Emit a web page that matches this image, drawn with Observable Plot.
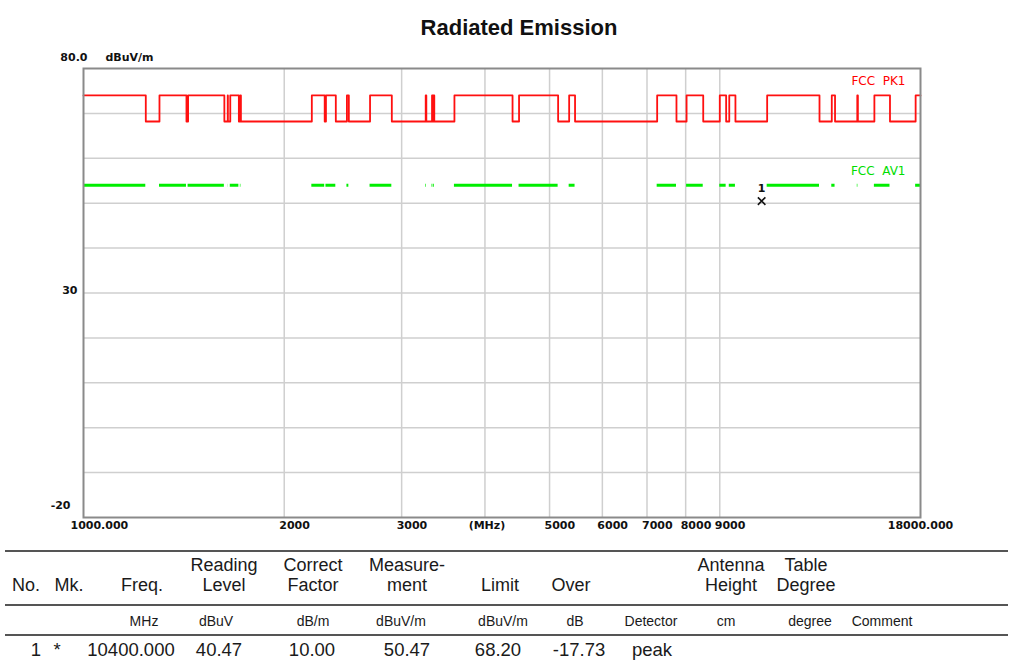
<!DOCTYPE html>
<html><head><meta charset="utf-8">
<script src="https://cdn.jsdelivr.net/npm/d3@7"></script>
<script src="https://cdn.jsdelivr.net/npm/@observablehq/plot@0.6"></script>
<style>
body{margin:0;background:#fff;}
#wrap{position:relative;width:1010px;height:664px;overflow:hidden;font-family:"Liberation Sans",Arial,sans-serif;background:#fff;}
#chart{position:absolute;left:0;top:0;}
#title{position:absolute;left:0;top:14px;width:1038px;text-align:center;font-weight:bold;font-size:22px;line-height:28px;color:#111;}
.hl{position:absolute;left:5px;width:1003px;height:2px;background:#555;}
.cell{position:absolute;transform:translate(-50%,-50%);white-space:nowrap;color:#1a1a1a;line-height:1;}
</style></head><body>
<div id="wrap"><div id="chart"></div><div id="title">Radiated Emission</div><div id="table"></div></div>
<script>
// ---- data ----
const freqMin = 1000, freqMax = 18000;
const levelMin = -20, levelMax = 80;
const bandStart = [960, 1300, 1435, 1645.5, 1660, 1718.8, 2200, 2310, 2483.5, 2690, 3260, 3332, 3345.8, 3600, 4500, 5350, 7250, 8025, 9000, 9300, 10600, 13250, 14470, 15350, 17700];
const bandEnd   = [1240, 1427, 1626.5, 1646.5, 1710, 1722.2, 2300, 2390, 2500, 2900, 3267, 3339, 3358, 4400, 5150, 5460, 7750, 8500, 9200, 9500, 12700, 13400, 14500, 16200, 21400];
const pkRestricted = 74, pkOther = 68.2, avLimit = 54;
const gridFreqs = [2000, 3000, 4000, 5000, 6000, 7000, 8000, 9000];
const gridLevels = [-10, 0, 10, 20, 30, 40, 50, 60, 70];
const freqTicks = [1000, 2000, 3000, 4000, 5000, 6000, 7000, 8000, 9000, 18000];
const freqTickLabels = ["1000.000", "2000", "3000", "(MHz)", "5000", "6000", "7000", "8000", "9000", "18000.000"];
const levelTicks = [80, 30, -20];
const levelTickLabels = ["80.0", "30", "-20"];
const unitLabel = "dBuV/m";
const pkName = "FCC  PK1", avName = "FCC  AV1";
const markerFreq = [10400], markerLevel = [50.47], markerNo = ["1"];

const headTop    = ["", "", "", "Reading", "Correct", "Measure-", "", "", "", "Antenna", "Table", ""];
const headBottom = ["No.", "Mk.", "Freq.", "Level", "Factor", "ment", "Limit", "Over", "", "Height", "Degree", ""];
const unitsRow   = ["", "", "MHz", "dBuV", "dB/m", "dBuV/m", "dBuV/m", "dB", "Detector", "cm", "degree", "Comment"];
const dataRow    = ["1", "*", "10400.000", "40.47", "10.00", "50.47", "68.20", "-17.73", "peak", "", "", ""];

// ---- layout (not data) ----
const headX = [26, 69, 142, 224, 313, 407, 500, 571, 651, 731, 806, 882];
const unitX = [26, 69, 144, 216, 313, 401, 503, 575, 651, 726, 810, 882];
const dataX = [36, 57, 131, 219, 312, 407, 498, 579, 652, 731, 806, 882];

// ---- derived tables ----
const bands = bandStart.map((s, i) => ({s, e: bandEnd[i]}));
const pkPoints = [];
bands.forEach(b => {
  pkPoints.push({f: Math.max(b.s, freqMin), v: pkRestricted});
  if (b.e < freqMax) pkPoints.push({f: b.e, v: pkOther});
  else pkPoints.push({f: freqMax, v: pkRestricted});
});
const ticks = freqTicks.map((f, i) => ({f, label: freqTickLabels[i], i}));
const midTicks = ticks.filter(t => t.i > 0 && t.i < ticks.length - 1 && t.label !== "(MHz)");
const unitTick = ticks.filter(t => t.label === "(MHz)");
const markers = markerFreq.map((f, i) => ({f, v: markerLevel[i], n: markerNo[i]}));
const lvl = levelTicks.map((v, i) => ({v, label: levelTickLabels[i]}));

const bold = {fontWeight: "bold", fill: "#111"};
const plot = Plot.plot({
  width: 1010, height: 545,
  marginLeft: 83, marginRight: 90, marginTop: 68, marginBottom: 28,
  x: {type: "log", domain: [freqMin, freqMax], axis: null},
  y: {domain: [levelMin, levelMax], axis: null},
  style: {fontFamily: "'DejaVu Sans', sans-serif", fontSize: "11px", background: "white", overflow: "visible"},
  marks: [
    Plot.gridX(gridFreqs, {stroke: "#cfcfcf", strokeOpacity: 1, strokeWidth: 1.5}),
    Plot.gridY(gridLevels, {stroke: "#cfcfcf", strokeOpacity: 1, strokeWidth: 1.5}),
    Plot.line(pkPoints, {x: "f", y: "v", curve: "step-after", stroke: "#ff1010", strokeWidth: 1.8}),
    Plot.ruleY(bands, {x1: "s", x2: "e", y: () => avLimit, stroke: "#00ee00", strokeWidth: 3, clip: true}),
    Plot.frame({stroke: "#8a8a8a", strokeWidth: 2}),
    // x tick labels
    Plot.text([ticks[0]], {x: "f", text: "label", frameAnchor: "bottom", textAnchor: "start", dx: -13, dy: 11, ...bold}),
    Plot.text(midTicks, {x: "f", text: "label", frameAnchor: "bottom", textAnchor: "start", dx: -5, dy: 11, ...bold}),
    Plot.text(unitTick, {x: "f", text: "label", frameAnchor: "bottom", textAnchor: "middle", dx: 2, dy: 11, ...bold}),
    Plot.text([ticks[ticks.length - 1]], {x: "f", text: "label", frameAnchor: "bottom", textAnchor: "middle", dy: 11, ...bold}),
    // y labels
    Plot.text([lvl[0]], {y: "v", text: "label", frameAnchor: "left", textAnchor: "end", dx: 4, dy: -11, ...bold}),
    Plot.text([lvl[1]], {y: "v", text: "label", frameAnchor: "left", textAnchor: "end", dx: -6, dy: -3, ...bold}),
    Plot.text([lvl[2]], {y: "v", text: "label", frameAnchor: "left", textAnchor: "end", dx: -13, dy: -12, ...bold}),
    Plot.text([unitLabel], {y: () => levelMax, text: d => d, frameAnchor: "left", textAnchor: "start", dx: 22, dy: -11, ...bold}),
    // limit names
    Plot.text([pkName], {x: () => freqMax, y: () => pkRestricted, text: d => d, textAnchor: "end", dx: -15, dy: -14, fontSize: 12, fill: "#ff0000", style: "white-space:pre;letter-spacing:1.6px"}),
    Plot.text([avName], {x: () => freqMax, y: () => avLimit, text: d => d, textAnchor: "end", dx: -15, dy: -14, fontSize: 12, fill: "#00dd00", style: "white-space:pre;letter-spacing:1.6px"}),
    // marker
    Plot.dot(markers, {x: "f", y: "v", symbol: "times", r: 3.5, stroke: "#111", strokeWidth: 1.6}),
    Plot.text(markers, {x: "f", y: "v", text: "n", dy: -13, ...bold})
  ]
});
plot.querySelectorAll("text").forEach(t => t.setAttribute("xml:space", "preserve"));
document.getElementById("chart").appendChild(plot);

// ---- table ----
const tbl = d3.select("#table");
[551, 605, 635].forEach(y => tbl.append("div").attr("class", "hl").style("top", (y - 1) + "px"));
function row(texts, xs, y, size) {
  texts.forEach((t, i) => {
    if (!t) return;
    tbl.append("div").attr("class", "cell")
      .style("left", xs[i] + "px").style("top", y + "px").style("font-size", size + "px").text(t);
  });
}
row(headTop, headX, 565, 18);
row(headBottom, headX, 585, 18);
row(unitsRow, unitX, 621, 14);
row(dataRow, dataX, 650, 18.5);
</script>
</body></html>
